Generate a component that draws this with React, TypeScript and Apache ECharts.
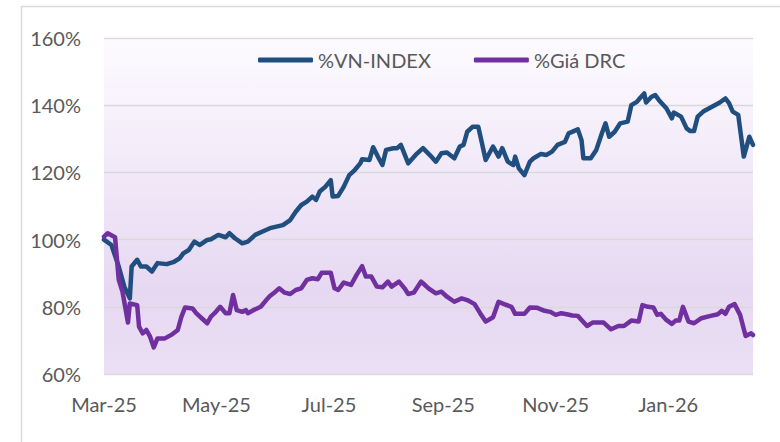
import React, { useEffect, useRef } from "react";
import * as echarts from "echarts";

const seriesNames = ["%VN-INDEX", "%Giá DRC"];

const tickLabelDates = ["2025-03-01", "2025-05-01", "2025-07-01", "2025-09-01", "2025-11-01", "2026-01-01"];
const axisMinDate = "2025-03-01";
const axisMaxDate = "2026-02-16";
const monthNames = ["Jan", "Feb", "Mar", "Apr", "May", "Jun", "Jul", "Aug", "Sep", "Oct", "Nov", "Dec"];

const yTicks = { min: 60, max: 160, interval: 20 };

const vnIndexSeries: [string, number][] = [
  ["2025-03-01", 100], ["2025-03-05", 98.4], ["2025-03-09", 92], ["2025-03-12", 86], ["2025-03-15", 82.5],
  ["2025-03-16", 92], ["2025-03-19", 94], ["2025-03-21", 92], ["2025-03-24", 92], ["2025-03-27", 90.5],
  ["2025-03-30", 93], ["2025-04-04", 92.7], ["2025-04-08", 93.4], ["2025-04-11", 94.4], ["2025-04-13", 95.9],
  ["2025-04-16", 96.9], ["2025-04-19", 99.4], ["2025-04-22", 98.4], ["2025-04-26", 99.9], ["2025-04-28", 100.1],
  ["2025-05-02", 101.4], ["2025-05-06", 100.7], ["2025-05-08", 101.9], ["2025-05-11", 100.4], ["2025-05-15", 98.9],
  ["2025-05-18", 99.4], ["2025-05-22", 101.4], ["2025-05-26", 102.4], ["2025-05-30", 103.4], ["2025-06-06", 104.3],
  ["2025-06-10", 105.8], ["2025-06-13", 108.3], ["2025-06-16", 110.3], ["2025-06-19", 111.3], ["2025-06-22", 112.8],
  ["2025-06-24", 111.8], ["2025-06-26", 114.3], ["2025-06-29", 115.7], ["2025-07-02", 117.7], ["2025-07-03", 112.8],
  ["2025-07-06", 113], ["2025-07-09", 115.7], ["2025-07-12", 119.2], ["2025-07-15", 120.7], ["2025-07-18", 122.7],
  ["2025-07-19", 123.9], ["2025-07-23", 123.7], ["2025-07-25", 127.5], ["2025-07-28", 124.2], ["2025-07-30", 122.2],
  ["2025-08-01", 126.7], ["2025-08-05", 127.2], ["2025-08-07", 127.2], ["2025-08-09", 128.2], ["2025-08-13", 122.7],
  ["2025-08-17", 125.2], ["2025-08-21", 127.2], ["2025-08-25", 125], ["2025-08-28", 123.2], ["2025-08-31", 125.7],
  ["2025-09-03", 125.9], ["2025-09-07", 124.2], ["2025-09-10", 127.7], ["2025-09-12", 128.2], ["2025-09-14", 132.1],
  ["2025-09-17", 133.6], ["2025-09-20", 133.6], ["2025-09-22", 128.7], ["2025-09-24", 123.7], ["2025-09-28", 127.7],
  ["2025-10-01", 124.7], ["2025-10-03", 127.2], ["2025-10-06", 123.2], ["2025-10-09", 122.2], ["2025-10-10", 124.7],
  ["2025-10-12", 121.2], ["2025-10-15", 119.2], ["2025-10-18", 123.2], ["2025-10-20", 124.2], ["2025-10-24", 125.5],
  ["2025-10-27", 125.2], ["2025-10-30", 126.2], ["2025-11-02", 128.2], ["2025-11-06", 129.1], ["2025-11-08", 131.6],
  ["2025-11-13", 132.8], ["2025-11-15", 129.6], ["2025-11-16", 124.2], ["2025-11-20", 124.2], ["2025-11-23", 126.7],
  ["2025-11-26", 131.6], ["2025-11-28", 134.6], ["2025-11-30", 130.6], ["2025-12-03", 132.1], ["2025-12-06", 134.6],
  ["2025-12-10", 135.1], ["2025-12-12", 140], ["2025-12-15", 141], ["2025-12-17", 142.3], ["2025-12-19", 143.5],
  ["2025-12-20", 140.8], ["2025-12-23", 142.5], ["2025-12-25", 143], ["2025-12-27", 141.5], ["2025-12-31", 139.1],
  ["2026-01-03", 136.1], ["2026-01-04", 137.8], ["2026-01-08", 136.6], ["2026-01-11", 133.1], ["2026-01-13", 132.3],
  ["2026-01-15", 132.3], ["2026-01-17", 136.6], ["2026-01-20", 138.1], ["2026-01-25", 139.6], ["2026-01-29", 140.8],
  ["2026-02-01", 142], ["2026-02-03", 140.6], ["2026-02-05", 138.1], ["2026-02-08", 137.1], ["2026-02-11", 124.7],
  ["2026-02-14", 130.6], ["2026-02-16", 128.2],
];

const drcSeries: [string, number][] = [
  ["2025-03-01", 100.9], ["2025-03-03", 101.9], ["2025-03-07", 100.7], ["2025-03-09", 88], ["2025-03-11", 84.5],
  ["2025-03-12", 81.5], ["2025-03-14", 75.3], ["2025-03-15", 81], ["2025-03-19", 80.5], ["2025-03-20", 74.1],
  ["2025-03-22", 72.1], ["2025-03-24", 73.1], ["2025-03-26", 71.1], ["2025-03-28", 67.9], ["2025-03-30", 70.6],
  ["2025-04-03", 70.6], ["2025-04-07", 71.8], ["2025-04-10", 73.1], ["2025-04-12", 77.1], ["2025-04-14", 79.8],
  ["2025-04-18", 79.5], ["2025-04-20", 78.1], ["2025-04-23", 76.6], ["2025-04-26", 75.1], ["2025-04-28", 77.1],
  ["2025-04-30", 78.1], ["2025-05-03", 80], ["2025-05-06", 78.1], ["2025-05-08", 78.1], ["2025-05-10", 83.5],
  ["2025-05-12", 79], ["2025-05-15", 78.5], ["2025-05-17", 79], ["2025-05-18", 78.1], ["2025-05-21", 79],
  ["2025-05-25", 80], ["2025-05-28", 82], ["2025-05-30", 83.2], ["2025-06-02", 84.5], ["2025-06-04", 85.5],
  ["2025-06-07", 84.2], ["2025-06-10", 83.8], ["2025-06-13", 85], ["2025-06-16", 85.5], ["2025-06-19", 88],
  ["2025-06-22", 88.5], ["2025-06-25", 88.2], ["2025-06-27", 90.1], ["2025-07-02", 90.1], ["2025-07-04", 85.5],
  ["2025-07-06", 85], ["2025-07-09", 87.2], ["2025-07-13", 86.5], ["2025-07-16", 89.5], ["2025-07-19", 92.1],
  ["2025-07-21", 89], ["2025-07-24", 89], ["2025-07-27", 86], ["2025-07-30", 85.8], ["2025-08-02", 87.5],
  ["2025-08-04", 86], ["2025-08-08", 87.5], ["2025-08-11", 85.5], ["2025-08-13", 83.8], ["2025-08-16", 84.2],
  ["2025-08-20", 87.5], ["2025-08-21", 87], ["2025-08-24", 85.5], ["2025-08-28", 84], ["2025-08-31", 84.5],
  ["2025-09-03", 83], ["2025-09-07", 81.5], ["2025-09-11", 82.5], ["2025-09-14", 82], ["2025-09-18", 80.8],
  ["2025-09-21", 78.1], ["2025-09-24", 75.6], ["2025-09-28", 76.9], ["2025-10-01", 81.5], ["2025-10-04", 80.8],
  ["2025-10-08", 80], ["2025-10-10", 77.9], ["2025-10-15", 77.9], ["2025-10-18", 79.8], ["2025-10-22", 79.7],
  ["2025-10-26", 78.8], ["2025-10-29", 78.5], ["2025-11-01", 77.6], ["2025-11-04", 78.1], ["2025-11-07", 77.8],
  ["2025-11-10", 77.4], ["2025-11-13", 77.3], ["2025-11-15", 76.1], ["2025-11-18", 74.3], ["2025-11-21", 75.3],
  ["2025-11-27", 75.3], ["2025-12-01", 73.3], ["2025-12-05", 74.3], ["2025-12-08", 74.3], ["2025-12-12", 75.9],
  ["2025-12-16", 75.6], ["2025-12-18", 80.5], ["2025-12-21", 80], ["2025-12-24", 79.8], ["2025-12-26", 77.6],
  ["2025-12-28", 77.9], ["2025-12-31", 76.1], ["2026-01-03", 74.9], ["2026-01-05", 75.9], ["2026-01-07", 75.9],
  ["2026-01-09", 80], ["2026-01-12", 75.6], ["2026-01-15", 75.1], ["2026-01-19", 76.6], ["2026-01-24", 77.3],
  ["2026-01-28", 77.8], ["2026-01-30", 78.8], ["2026-02-01", 77.9], ["2026-02-03", 80], ["2026-02-06", 80.8],
  ["2026-02-09", 77.6], ["2026-02-12", 71.3], ["2026-02-15", 72.1], ["2026-02-16", 71.6],
];

const toTs = (s: string) => {
  const [y, m, d] = s.split("-").map(Number);
  return new Date(y, m - 1, d).getTime();
};

const FONT = "Lato";
const TEXT_COLOR = "#595959";

export default function App() {
  const ref = useRef<HTMLDivElement>(null);

  useEffect(() => {
    document.body.style.margin = "0";
    if (!ref.current) return;
    const chart = echarts.init(ref.current, null, { renderer: "svg" });
    const option: any = {
      animation: false,
      backgroundColor: "#ffffff",
      textStyle: { fontFamily: FONT },
      graphic: [
        {
          type: "rect",
          shape: { x: 21.5, y: 6.5, width: 800, height: 500 },
          style: { fill: "none", stroke: "#D9D9D9", lineWidth: 1.5 },
          silent: true,
          z: -10,
        },
      ],
      legend: {
        data: seriesNames,
        left: 253,
        top: 45,
        icon: "roundRect",
        itemWidth: 55,
        itemHeight: 5,
        itemGap: 43,
        textStyle: { fontFamily: FONT, fontSize: 20, color: TEXT_COLOR },
      },
      grid: {
        left: 104,
        right: 27,
        top: 38,
        bottom: 68,
        show: true,
        borderWidth: 0,
        backgroundColor: new echarts.graphic.LinearGradient(0, 0, 0, 1, [
          { offset: 0, color: "#FDFBFF" },
          { offset: 0.5, color: "#EEE4F6" },
          { offset: 0.75, color: "#E6D8F1" },
          { offset: 1, color: "#EADFF4" },
        ]),
      },
      xAxis: {
        type: "value",
        min: toTs(axisMinDate),
        max: toTs(axisMaxDate),
        axisLine: { show: false },
        axisTick: { show: false },
        splitLine: { show: false },
        axisLabel: {
          customValues: tickLabelDates.map(toTs),
          fontFamily: FONT,
          fontSize: 20,
          color: TEXT_COLOR,
          margin: 20,
          formatter: (v: number) => {
            const d = new Date(v);
            return `${monthNames[d.getMonth()]}-${String(d.getFullYear()).slice(2)}`;
          },
        },
      },
      yAxis: {
        type: "value",
        min: yTicks.min,
        max: yTicks.max,
        interval: yTicks.interval,
        axisLine: { show: false },
        axisTick: { show: false },
        splitLine: { show: true, lineStyle: { color: "#D9D9D9", width: 1.3 } },
        axisLabel: {
          formatter: "{value}%",
          fontFamily: FONT,
          fontSize: 20,
          color: TEXT_COLOR,
          margin: 23,
        },
      },
      series: [
        {
          name: seriesNames[0],
          type: "line",
          data: vnIndexSeries.map(([d, v]) => [toTs(d), v]),
          showSymbol: false,
          symbol: "none",
          color: "#1F4E7F",
          lineStyle: { width: 4.5, color: "#1F4E7F", join: "round", cap: "round" },
          z: 3,
        },
        {
          name: seriesNames[1],
          type: "line",
          data: drcSeries.map(([d, v]) => [toTs(d), v]),
          showSymbol: false,
          symbol: "none",
          color: "#7030A0",
          lineStyle: { width: 4.5, color: "#7030A0", join: "round", cap: "round" },
          z: 4,
        },
      ],
    };
    chart.setOption(option);
    return () => chart.dispose();
  }, []);

  return <div ref={ref} style={{ width: 780, height: 442 }} />;
}
